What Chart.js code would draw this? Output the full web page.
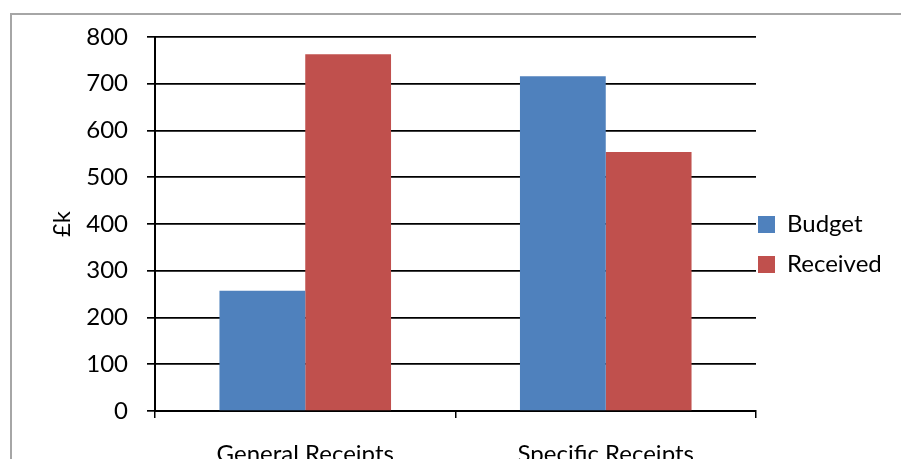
<!DOCTYPE html>
<html>
<head>
<meta charset="utf-8">
<script src="https://cdn.jsdelivr.net/npm/chart.js@4/dist/chart.umd.min.js"></script>
<style>
  html, body { margin: 0; padding: 0; width: 901px; height: 459px; overflow: hidden; background: #fff; }
  #frame { position: absolute; left: 10px; top: 13px; width: 1000px; height: 1000px; border: 2px solid #a6a6a6; box-sizing: border-box; }
  #c { position: absolute; left: 0; top: 0; }
</style>
</head>
<body>
<div id="frame"></div>
<canvas id="c" width="901" height="480"></canvas>
<script>
const categories = ['General Receipts', 'Specific Receipts'];
const budget = [257, 716];
const received = [763, 554];
const seriesNames = ['Budget', 'Received'];
const yMin = 0;
const yMax = 800;
const yStep = 100;
const yTitle = '£k';

const FONT = 'Lato';

const legendShift = {
  id: 'legendShift',
  afterInit(chart) {
    const lg = chart.legend;
    if (lg && !lg._patched) {
      const orig = lg.fit.bind(lg);
      lg.fit = function () { orig(); this.width = 145; };
      lg._patched = true;
    }
  },
  afterLayout(chart) {
    const lg = chart.legend;
    if (!lg) return;
    lg.left -= 14; lg.right -= 14;
    lg.top -= 14; lg.bottom -= 14;
  }
};

new Chart(document.getElementById('c'), {
  type: 'bar',
  data: {
    labels: categories,
    datasets: [
      { label: seriesNames[0], data: budget, backgroundColor: '#4F81BD', borderWidth: 0 },
      { label: seriesNames[1], data: received, backgroundColor: '#C0504D', borderWidth: 0 }
    ]
  },
  options: {
    responsive: false,
    animation: false,
    devicePixelRatio: 1,
    categoryPercentage: 0.571,
    barPercentage: 1.0,
    layout: { padding: { top: 37, left: 0, right: 0, bottom: 0 } },
    plugins: {
      tooltip: { enabled: false },
      legend: {
        position: 'right',
        labels: {
          boxWidth: 17, boxHeight: 17, padding: 16,
          color: '#000',
          font: { family: FONT, size: 24 }
        }
      }
    },
    scales: {
      x: {
        offset: true,
        grid: { display: true, drawOnChartArea: false, drawTicks: true, tickLength: 7, color: '#000', lineWidth: 1.5 },
        border: { display: true, color: '#000', width: 2 },
        ticks: { color: '#000', font: { family: FONT, size: 24 }, padding: 22, maxRotation: 0 },
        afterFit(scale) { scale.height = 69; }
      },
      y: {
        min: yMin, max: yMax,
        ticks: { stepSize: yStep, color: '#000', font: { family: FONT, size: 24 }, padding: 19 },
        grid: { color: '#000', lineWidth: 1.7, tickLength: 8, drawTicks: true },
        border: { display: true, color: '#000', width: 2 },
        title: { display: true, text: yTitle, color: '#000', font: { family: FONT, size: 24 }, padding: { top: 48, bottom: 0 } },
        afterFit(scale) { scale.width = 155; }
      }
    }
  },
  plugins: [legendShift]
});
</script>
</body>
</html>
